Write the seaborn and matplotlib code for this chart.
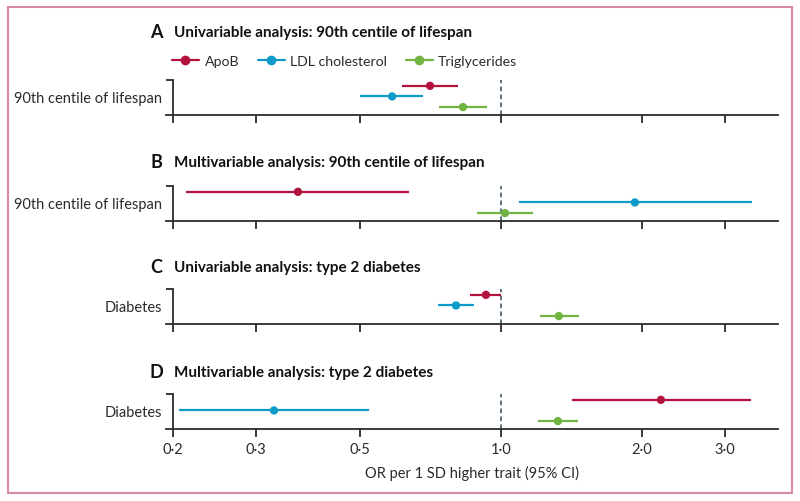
import numpy as np
import pandas as pd
import seaborn as sns
import matplotlib.pyplot as plt
from matplotlib.lines import Line2D
from matplotlib.patches import Rectangle
from matplotlib.ticker import NullLocator

traits = ['ApoB', 'LDL cholesterol', 'Triglycerides']
colors = ['#b3123f', '#0f9bc9', '#72b443']
panels = ['A', 'B', 'C', 'D']
titles = ['Univariable analysis: 90th centile of lifespan',
          'Multivariable analysis: 90th centile of lifespan',
          'Univariable analysis: type 2 diabetes',
          'Multivariable analysis: type 2 diabetes']
outcomes = ['90th centile of lifespan', '90th centile of lifespan', 'Diabetes', 'Diabetes']

# odds ratios per panel, order ApoB / LDL / TG
or_est = {'A': [0.706, 0.586, 0.830], 'B': [0.369, 1.931, 1.02],
          'C': [0.929, 0.802, 1.329], 'D': [2.194, 0.328, 1.323]}
or_low = {'A': [0.615, 0.500, 0.738], 'B': [0.213, 1.092, 0.889],
          'C': [0.859, 0.734, 1.211], 'D': [1.417, 0.206, 1.199]}
or_high = {'A': [0.810, 0.682, 0.934], 'B': [0.637, 3.43, 1.17],
           'C': [1.0, 0.876, 1.466], 'D': [3.41, 0.523, 1.459]}

xticks = [0.2, 0.3, 0.5, 1.0, 2.0, 3.0]
xticklabels = ['0·2', '0·3', '0·5', '1·0', '2·0', '3·0']

rows = []
for p in panels:
    for i, t in enumerate(traits):
        rows.append(dict(panel=p, trait=t, row=i + 1, est=or_est[p][i],
                         lo=or_low[p][i], hi=or_high[p][i]))
df = pd.DataFrame(rows)

sns.set_theme(style='white')
plt.rcParams['font.family'] = ['Lato', 'DejaVu Sans']
ink = '#2b2b2b'

W, H = 800, 502
fig = plt.figure(figsize=(8, 5.02), dpi=100)
tops = [81, 187, 290, 395]
ax_h = 34.5
pal = dict(zip(traits, colors))

for k, p in enumerate(panels):
    top = tops[k]
    ax = fig.add_axes([166 / W, 1 - (top + ax_h) / H, (778 - 166) / W, ax_h / H])
    sub = df[df.panel == p]
    ax.hlines(sub['row'], sub['lo'], sub['hi'], colors=[pal[t] for t in sub['trait']],
              lw=1.6, zorder=2)
    sns.scatterplot(data=sub, x='est', y='row', hue='trait', palette=pal, s=36,
                    edgecolor='none', legend=False, ax=ax, zorder=3)
    ax.axvline(1.0, color='#2f4b5c', ls=(0, (3, 2.2)), lw=1.1, zorder=1)
    ax.set_xscale('log')
    ax.set_xlim(0.193, 3.9)
    ax.set_ylim(3.7, 0.45)
    ax.xaxis.set_minor_locator(NullLocator())
    ax.set_xticks(xticks)
    ax.set_xticklabels(xticklabels if p == 'D' else [''] * len(xticks), fontsize=10.5, color=ink)
    ax.set_yticks([0.45])
    ax.set_yticklabels([''])
    ax.set_yticks([2], labels=[outcomes[k]], minor=True)
    ax.tick_params(bottom=True, left=True)
    ax.tick_params(axis='y', which='minor', length=0, pad=8, labelsize=10.5, labelcolor=ink)
    ax.tick_params(axis='y', which='major', length=5, width=1.3, color=ink, direction='out')
    ax.tick_params(axis='x', which='major', length=6, width=1.3, color=ink, direction='out', pad=4)
    ax.set_xlabel('OR per 1 SD higher trait (95% CI)' if p == 'D' else '', fontsize=10.5,
                  color=ink, labelpad=6)
    ax.set_ylabel('')
    for s in ['top', 'right']:
        ax.spines[s].set_visible(False)
    ax.spines['left'].set_position(('data', 0.2))
    for s in ['left', 'bottom']:
        ax.spines[s].set_color(ink)
        ax.spines[s].set_linewidth(1.3)
    ax.patch.set_alpha(0)

    ty = 1 - [33, 163, 268, 373][k] / H
    fig.text(156 / W, ty, p, ha='center', va='center', fontsize=13, fontweight='bold', color='#111')
    fig.text(174 / W, ty, titles[k], ha='left', va='center', fontsize=11,
             fontweight='bold', color='#111')

handles = [Line2D([], [], color=c, lw=1.6, marker='o', markersize=6) for c in colors]
fig.legend(handles, traits, loc='center left', bbox_to_anchor=(172 / W, 1 - 62 / H),
           ncol=3, frameon=False, fontsize=10.2, handlelength=1.9, handletextpad=0.4,
           columnspacing=1.3, labelcolor=ink, borderaxespad=0, borderpad=0)

fig.patches.append(Rectangle((7.5 / W, 8 / H), (792 - 7.5) / W, (494 - 8) / H,
                             transform=fig.transFigure, fill=False,
                             edgecolor='#d98aa3', lw=1.5))

fig.savefig('out.png', dpi=100)
